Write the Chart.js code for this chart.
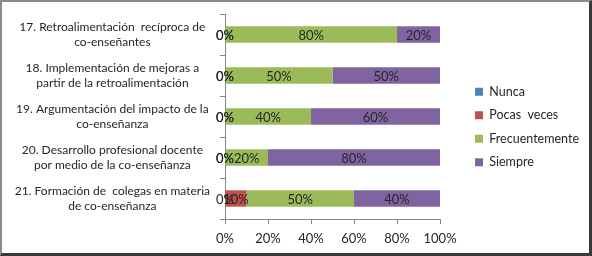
<!DOCTYPE html>
<html>
<head>
<meta charset="utf-8">
<script src="https://cdn.jsdelivr.net/npm/chart.js@4/dist/chart.umd.min.js"></script>
<style>
  html, body { margin: 0; padding: 0; background: #fff; }
  #wrap { position: relative; width: 592px; height: 256px; }
  #frame { position: absolute; left: 0; top: 0; width: 592px; height: 256px; box-sizing: border-box;
           border-top: 2px solid #8c8c8c; border-left: 2px solid #8c8c8c;
           border-right: 3px solid #3a3a3a; border-bottom: 3px solid #3a3a3a; pointer-events: none; }
  canvas { position: absolute; left: 0; top: 0; }
</style>
</head>
<body>
<div id="wrap">
  <canvas id="c" width="592" height="256"></canvas>
  <div id="frame"></div>
</div>
<script>
const categories = [
  ["17. Retroalimentación  recíproca de", "co-enseñantes"],
  ["18. Implementación de mejoras a", "partir de la retroalimentación"],
  ["19. Argumentación del impacto de la", "co-enseñanza"],
  ["20. Desarrollo profesional docente", "por medio de la co-enseñanza"],
  ["21. Formación de  colegas en materia", "de co-enseñanza"]
];
const seriesNames = ["Nunca", "Pocas  veces", "Frecuentemente", "Siempre"];
const nunca = [0, 0, 0, 0, 0];
const pocasVeces = [0, 0, 0, 0, 10];
const frecuentemente = [80, 50, 40, 20, 50];
const siempre = [20, 50, 60, 80, 40];
const xTicks = [0, 20, 40, 60, 80, 100];
const colors = ["#4F81BD", "#C0504D", "#9BBB59", "#8064A2"];

const FONT = "Lato, 'Liberation Sans', sans-serif";
const FS = 13;
const TEXT = "#262626";

const dataLabelPlugin = {
  id: 'dataLabels',
  afterDatasetsDraw(chart) {
    const ctx = chart.ctx;
    ctx.save();
    ctx.font = FS + "px " + FONT;
    ctx.fillStyle = TEXT;
    ctx.textAlign = 'center';
    ctx.textBaseline = 'middle';
    chart.data.datasets.forEach((ds, di) => {
      const meta = chart.getDatasetMeta(di);
      meta.data.forEach((el, i) => {
        const cx = (el.x + el.base) / 2;
        ctx.fillText(ds.data[i] + '%', cx, el.y + 1);
      });
    });
    ctx.restore();
  }
};

const allSeries = [nunca, pocasVeces, frecuentemente, siempre];
new Chart(document.getElementById('c'), {
  type: 'bar',
  data: {
    labels: categories,
    datasets: allSeries.map((d, i) => ({
      label: seriesNames[i],
      data: d,
      backgroundColor: colors[i],
      borderWidth: 0,
      barPercentage: 0.4,
      categoryPercentage: 1.0
    }))
  },
  options: {
    indexAxis: 'y',
    responsive: false,
    animation: false,
    layout: { padding: { left: 0, right: 3, top: 7, bottom: 9 } },
    plugins: {
      tooltip: { enabled: false },
      legend: {
        position: 'right',
        labels: {
          boxWidth: 8, boxHeight: 8, padding: 11,
          color: TEXT,
          font: { family: FONT, size: 12.5 }
        }
      }
    },
    scales: {
      x: {
        stacked: true,
        min: 0, max: 100,
        afterBuildTicks(axis) { axis.ticks = xTicks.map(v => ({ value: v })); },
        afterFit(axis) { axis.height = 256 - 219 - 9; axis.paddingLeft = 0; axis.paddingRight = 0; },
        ticks: { callback: v => v + '%', color: TEXT, font: { family: FONT, size: FS }, padding: 7, maxRotation: 0 },
        grid: { display: true, drawOnChartArea: false, drawTicks: true, tickLength: 5, color: '#868686' },
        border: { display: true, color: '#868686' }
      },
      y: {
        stacked: true,
        afterFit(axis) { axis.width = 225; axis.paddingTop = 0; axis.paddingBottom = 0; },
        ticks: { color: TEXT, crossAlign: 'center', font: { family: FONT, size: 12 }, padding: 10 },
        grid: { display: true, drawOnChartArea: false, drawTicks: true, tickLength: 5, color: '#868686', offset: true },
        border: { display: true, color: '#868686' }
      },
      gapRight: {
        type: 'linear',
        position: 'right',
        display: false,
        afterFit(axis) { axis.width = 24; }
      },
      gapTop: {
        type: 'linear',
        position: 'top',
        display: false,
        afterFit(axis) { axis.height = 7; }
      }
    }
  },
  plugins: [dataLabelPlugin]
});
</script>
</body>
</html>
